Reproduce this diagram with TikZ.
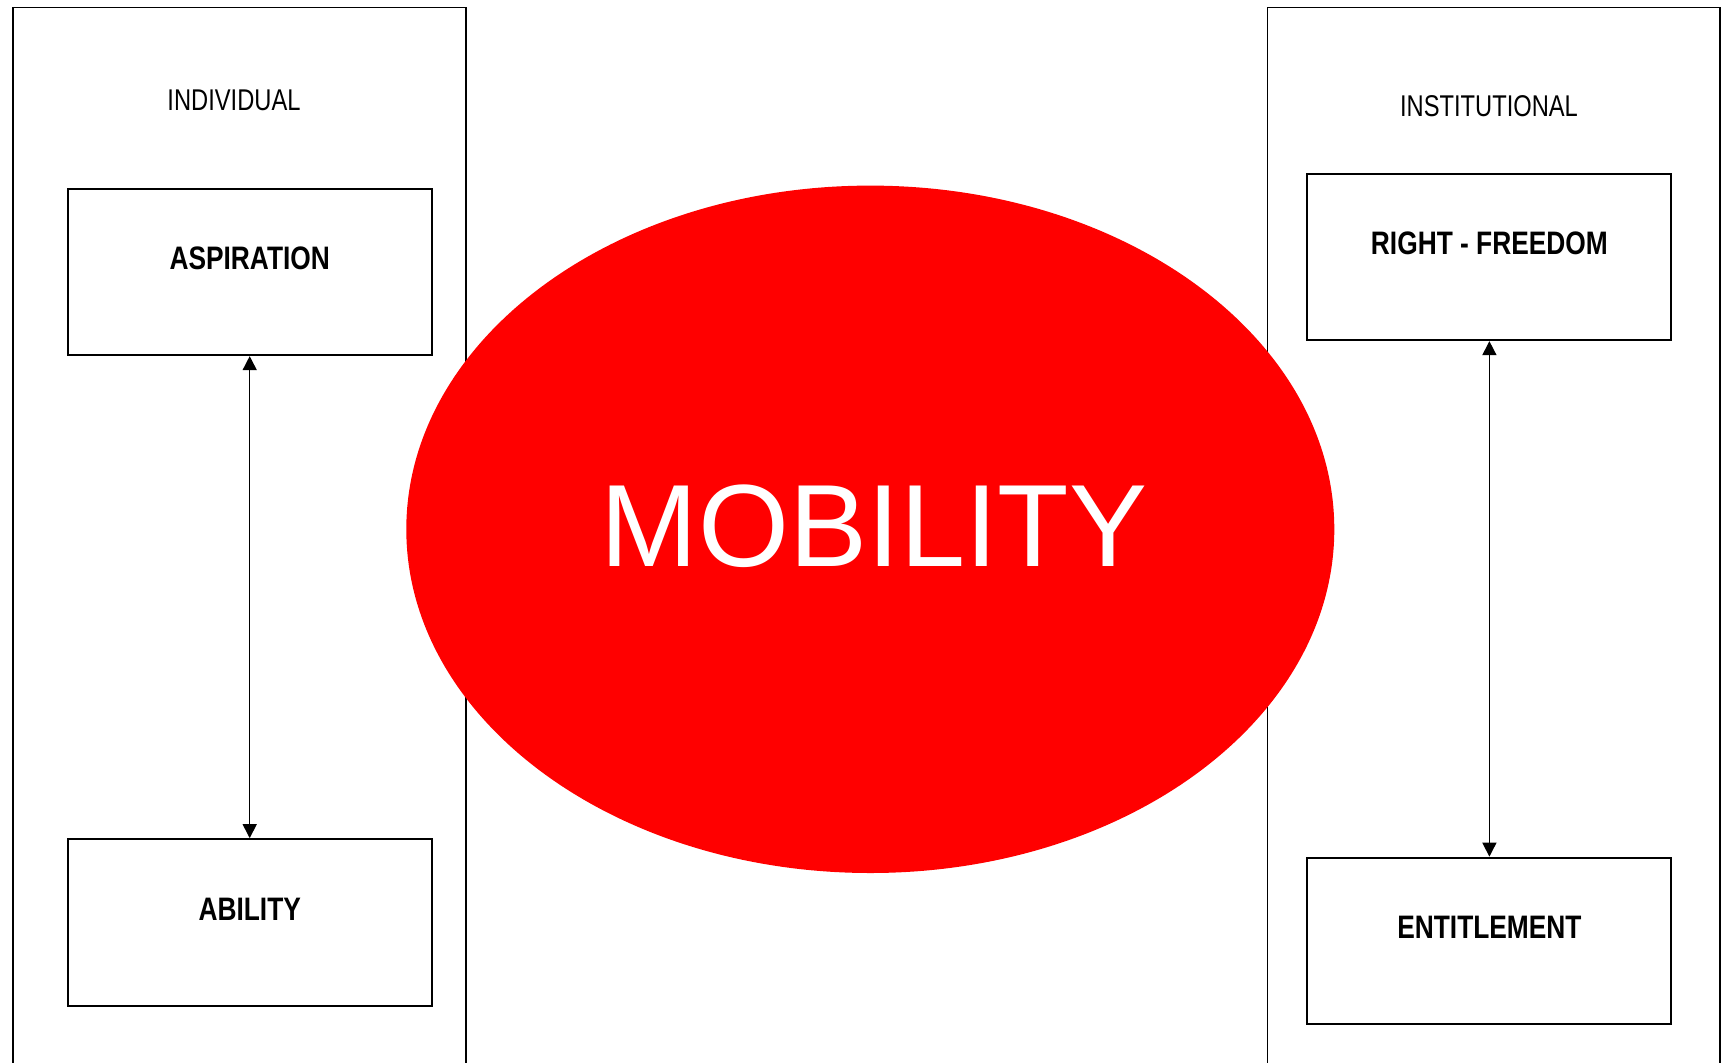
\documentclass[tikz,border=0pt]{standalone}
\usepackage{fontspec}
\setmainfont{Liberation Sans}
\newfontfamily\narrowfont[FakeStretch=0.81]{Liberation Sans}
\newfontfamily\headfont[FakeStretch=0.79]{Liberation Sans}
\usetikzlibrary{arrows.meta,shapes.geometric}
\definecolor{mobred}{RGB}{255,0,0}
\tikzset{
  panel/.style={line width=1.8pt, draw=black},
  conceptbox/.style={draw=black, line width=2pt, minimum width=364pt, minimum height=166.5pt, inner sep=0pt},
  boxlabel/.style={font=\narrowfont\bfseries\fontsize{32.5}{36}\selectfont, inner sep=0pt},
  headlabel/.style={font=\headfont\fontsize{30}{34}\selectfont, inner sep=0pt},
  link/.style={line width=1.5pt, {Triangle[length=14pt,width=14pt]}-{Triangle[length=14pt,width=14pt]}}
}
\begin{document}
\begin{tikzpicture}[x=1pt,y=-1pt]
\useasboundingbox[fill=white] (0,0) rectangle (1722,1063);
% panels (open at the bottom)
\draw[panel] (13,1075) -- (13,7.5) -- (466,7.5) -- (466,1075);
\draw[panel] (1267.5,1075) -- (1267.5,7.5) -- (1720,7.5) -- (1720,1075);
% headings
\node[headlabel] (indiv) at (234,100.7) {INDIVIDUAL};
\node[headlabel] (instit) at (1489,106) {INSTITUTIONAL};
% boxes
\node[conceptbox] (asp) at (249.7,271.9) {};
\node[conceptbox] (abi) at (249.7,922.4) {};
\node[conceptbox] (rf) at (1489.4,256.9) {};
\node[conceptbox] (ent) at (1489.4,940.9) {};
\node[boxlabel] (asptext) at ([yshift=14pt]asp.center) {ASPIRATION};
\node[boxlabel] (abitext) at ([yshift=13pt]abi.center) {ABILITY};
\node[boxlabel] (rftext) at ([yshift=13.5pt]rf.center) {RIGHT - FREEDOM};
\node[boxlabel] (enttext) at ([yshift=14pt]ent.center) {ENTITLEMENT};
% connectors
\draw[link] (asp.south) -- (abi.north);
\draw[link] (rf.south) -- (ent.north);
% central ellipse
\node[ellipse, fill=mobred, draw=none, minimum width=928pt, minimum height=687.4pt, inner sep=0pt] (mob) at (870.3,529.3) {};
\node[font=\fontsize{117}{130}\selectfont, text=white, inner sep=0pt] (mobtext) at (874,526) {MOBILITY};
\end{tikzpicture}
\end{document}
